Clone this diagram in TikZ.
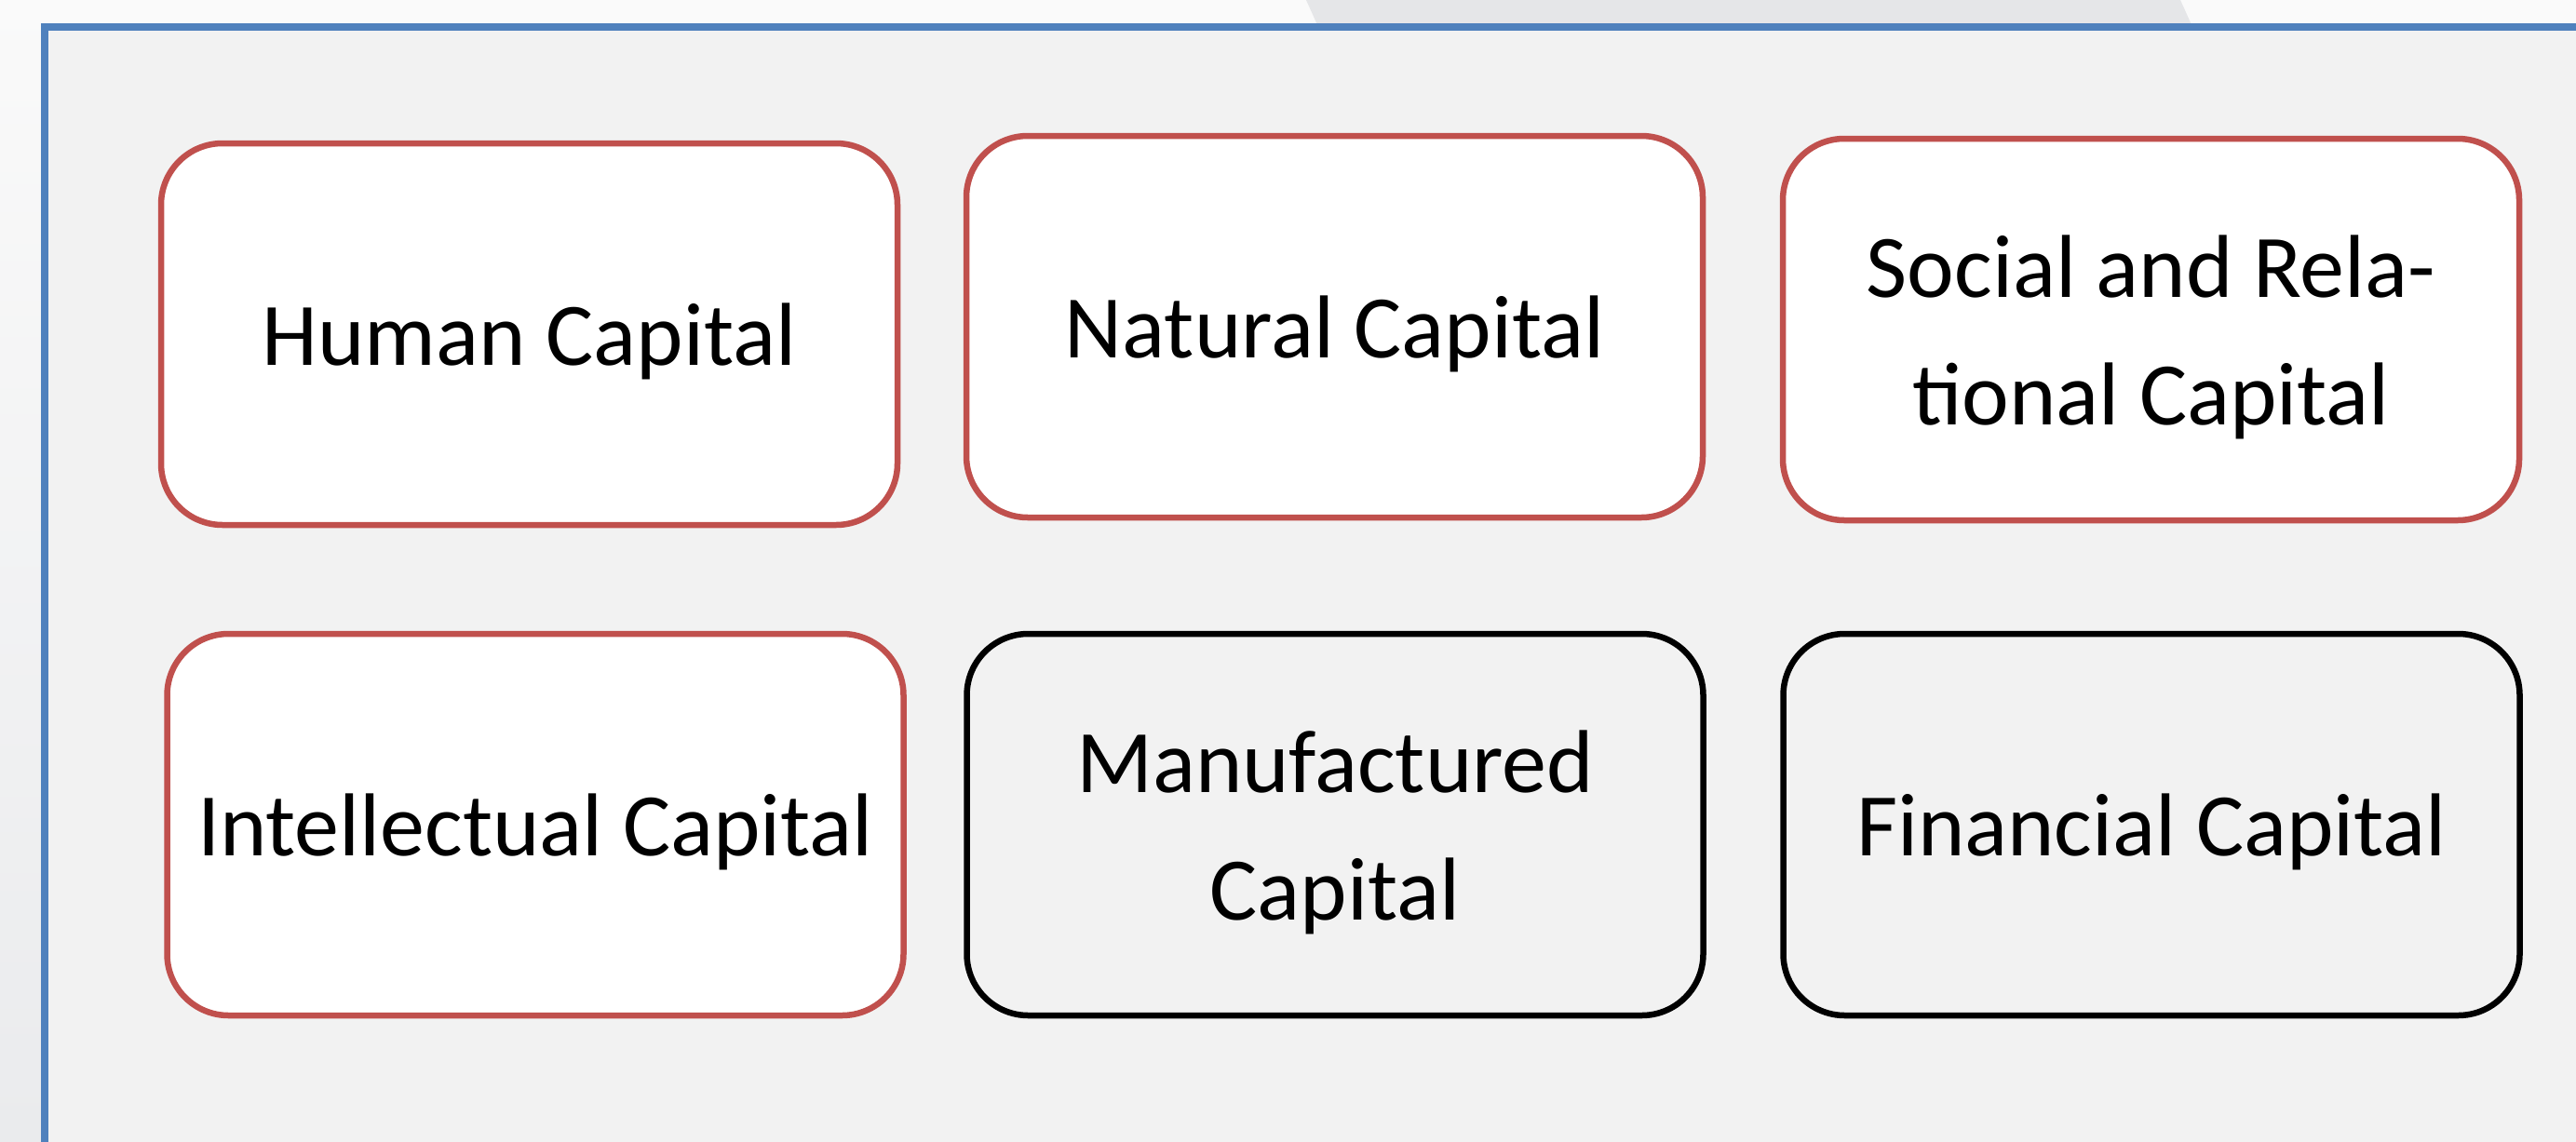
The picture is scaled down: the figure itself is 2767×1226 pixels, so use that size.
\documentclass[tikz,border=0pt]{standalone}
\usepackage{fontspec}
\setmainfont{Carlito}
\usepackage{tikz}
\usetikzlibrary{positioning}

\definecolor{framebl}{HTML}{4F81BD}
\definecolor{capred}{HTML}{C0504D}
\definecolor{panelgr}{HTML}{F2F2F2}
\definecolor{tabgr}{HTML}{E5E6E8}
\newcommand\cs{\rule[-0.25em]{0pt}{1.2em}}

\begin{document}
\begin{tikzpicture}[x=1pt,y=-1pt,
  capbox/.style={rectangle, rounded corners=66, line width=6.5,
    minimum width=791, minimum height=410, inner sep=0pt, align=center,
    font=\fontsize{96}{137}\selectfont},
  keycap/.style={capbox, draw=capred, fill=white},
  plaincap/.style={capbox, draw=black}]
\useasboundingbox (0,0) rectangle (2767,1226);
% page background and tab
\shade [top color=gray!4, bottom color={rgb,255:red,234;green,235;blue,237}] (0,0) rectangle (2767,1226);
\fill [tabgr] (1403,0) -- (2342,0) -- (2360,40) -- (1421,40) -- cycle;
\begin{scope}
\clip (0,0) rectangle (2767,1226);
\draw [framebl, line width=8, fill=panelgr] (47.5,28.5) rectangle (2800,1260);
\end{scope}
% first row
\node [keycap] (human) at (568.5,359) {\cs Human Capital\cs};
\node [keycap] (natural) at (1433.5,351) {\cs Natural Capital\cs};
\node [keycap] (social) at (2310.5,354) {\cs Social and Rela-\\tional Capital\cs};
% second row
\node [keycap] (intel) at (575,886) {\cs Intellectual Capital\cs};
\node [plaincap] (manuf) at (1434,886) {\cs Manufactured\\Capital\cs};
\node [plaincap] (financial) at (2311,886) {\cs Financial Capital\cs};
\end{tikzpicture}
\end{document}
